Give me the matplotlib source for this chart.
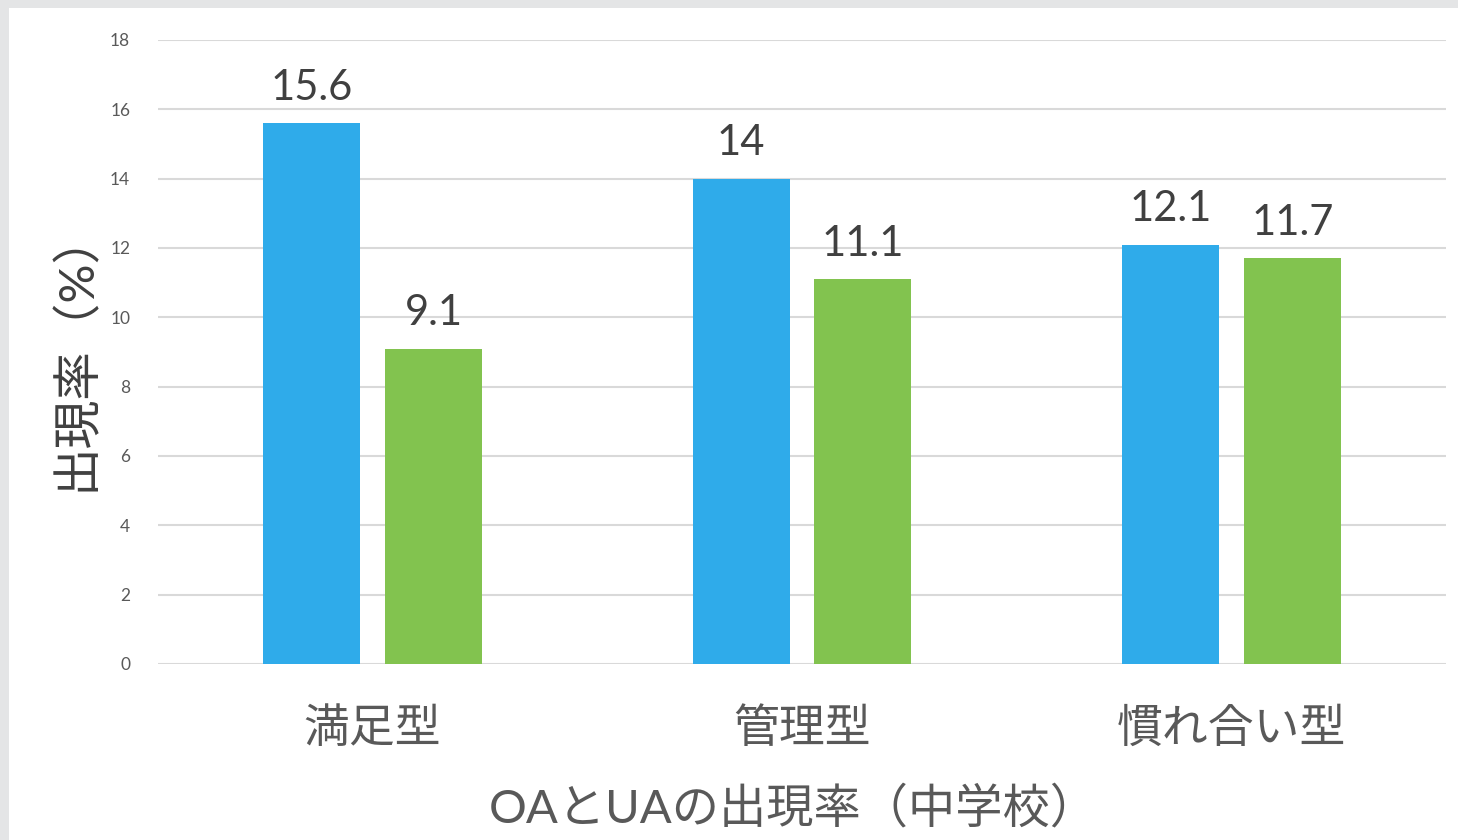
import numpy as np
import matplotlib.pyplot as plt
from matplotlib.patches import Rectangle

plt.rcParams['font.family'] = ['Lato', 'Noto Sans CJK JP', 'DejaVu Sans']

# --- DANE ---
categories = ['満足型', '管理型', '慣れ合い型']
oa_values = [15.6, 14, 12.1]
ua_values = [9.1, 11.1, 11.7]
value_labels_oa = ['15.6', '14', '12.1']
value_labels_ua = ['9.1', '11.1', '11.7']
y_ticks = [0, 2, 4, 6, 8, 10, 12, 14, 16, 18]

blue = '#2FABEA'
green = '#82C34F'

fig = plt.figure(figsize=(14.58, 8.4), dpi=100)
fig.patch.set_facecolor('#E4E5E6')
# biały panel pod wykresem
fig.patches.append(Rectangle((9 / 1458, 0), 1, 1 - 8 / 840, transform=fig.transFigure,
                             facecolor='white', edgecolor='none', zorder=-5))

ax = fig.add_axes([158 / 1458, 1 - 664 / 840, 1288 / 1458, 624 / 840])
ax.set_facecolor('white')

x = np.arange(len(categories))
w = 0.226
off = 0.142
b1 = ax.bar(x - off, oa_values, w, color=blue, zorder=3)
b2 = ax.bar(x + off, ua_values, w, color=green, zorder=3)

for bars, labels in ((b1, value_labels_oa), (b2, value_labels_ua)):
    for rect, lab in zip(bars, labels):
        ax.annotate(lab, (rect.get_x() + rect.get_width() / 2, rect.get_height()),
                    xytext=(0, 12), textcoords='offset points', ha='center', va='bottom',
                    fontsize=30, color='#404040')

ax.set_xlim(-0.5, 2.5)
ax.set_ylim(0, 18)
ax.set_yticks(y_ticks)
ax.set_yticklabels([str(t) for t in y_ticks], fontsize=12.5, color='#595959')
ax.set_xticks(x)
ax.set_xticklabels(categories, fontsize=33, color='#595959')
ax.tick_params(axis='both', length=0)
ax.tick_params(axis='y', pad=20)
ax.tick_params(axis='x', pad=31)
ax.grid(axis='y', color='#D9D9D9', linewidth=1.5, zorder=0)
for s in ax.spines.values():
    s.set_visible(False)

fig.text(75 / 1458, 1 - 350 / 840, '出現率（%）', rotation=90, ha='center', va='center',
         fontsize=35, color='#404040')
fig.text(793 / 1458, 1 - 808 / 840, 'OAとUAの出現率（中学校）', ha='center', va='center',
         fontsize=34, color='#595959')

fig.savefig('out.png', dpi=100, facecolor=fig.get_facecolor())
